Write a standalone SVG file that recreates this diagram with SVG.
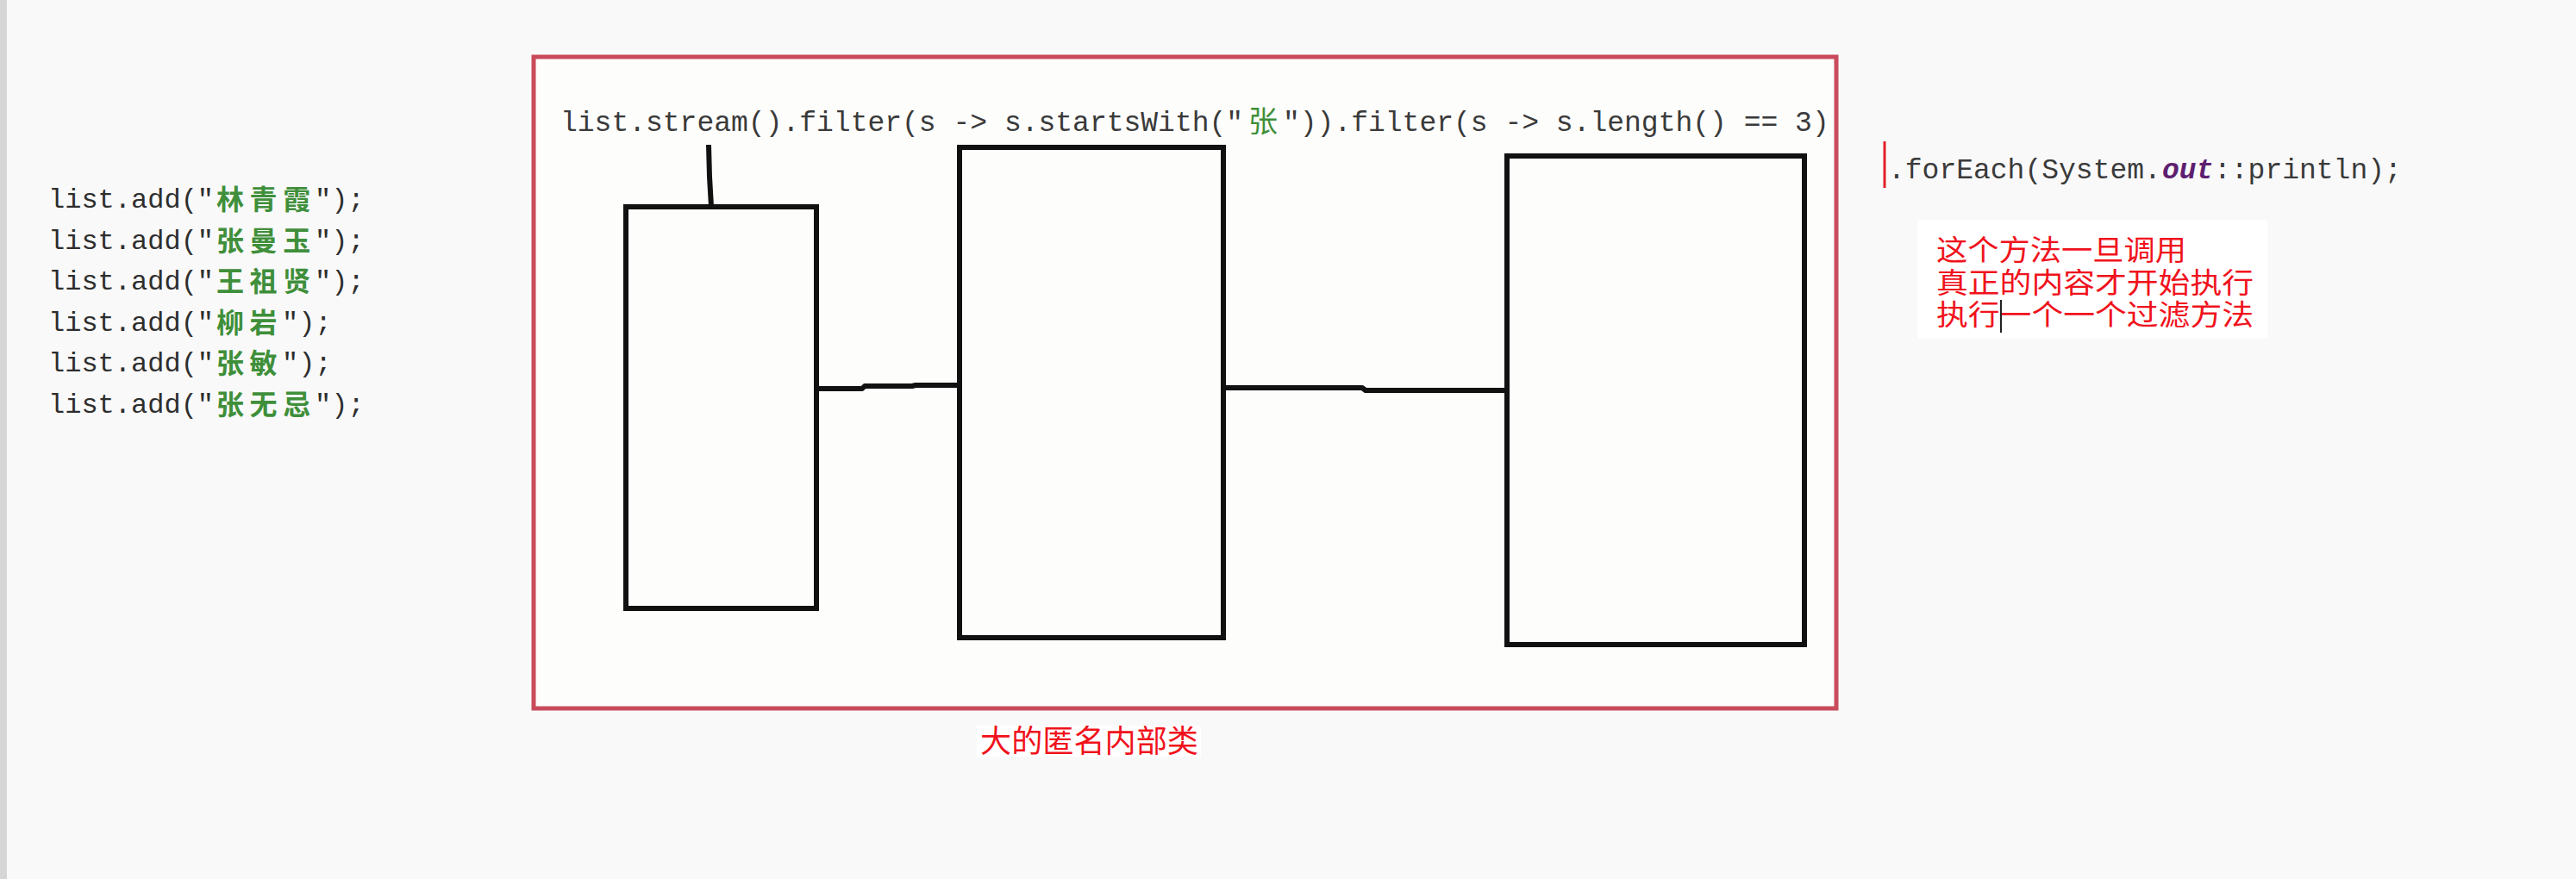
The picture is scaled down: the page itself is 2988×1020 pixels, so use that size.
<svg xmlns="http://www.w3.org/2000/svg" width="2988" height="1020" viewBox="0 0 2988 1020">
  <style>
    .code { font-family: "Liberation Mono", monospace; font-size: 32px; fill: #2e2e2e; }
    .code2 { font-family: "Liberation Mono", monospace; font-size: 33px; fill: #3a3a3a; }
    .cn { font-family: "Noto Sans CJK SC", sans-serif; font-size: 32px; font-weight: 700; fill: #3f8f3a; }
    .note { font-family: "Noto Sans CJK SC", sans-serif; fill: #f0121c; }
    .box { fill: none; stroke: #111; stroke-width: 6; }
    .conn { fill: none; stroke: #111; stroke-width: 6; stroke-linejoin: round; }
  </style>
  <rect x="0" y="0" width="2988" height="1020" fill="#f9f9f9"/>
  <rect x="0" y="0" width="8" height="1020" fill="#d6d6d6"/>

  <!-- left source code -->
  <g id="source-list">
    <g id="line1">
      <text class="code" x="56" y="241">list.add("</text>
      <text class="cn" x="251 289.6 328.2" y="243">林青霞</text>
      <text class="code" x="365" y="241">");</text>
    </g>
    <g id="line2">
      <text class="code" x="56" y="288.6">list.add("</text>
      <text class="cn" x="251 289.6 328.2" y="290.6">张曼玉</text>
      <text class="code" x="365" y="288.6">");</text>
    </g>
    <g id="line3">
      <text class="code" x="56" y="336.2">list.add("</text>
      <text class="cn" x="251 289.6 328.2" y="338.2">王祖贤</text>
      <text class="code" x="365" y="336.2">");</text>
    </g>
    <g id="line4">
      <text class="code" x="56" y="383.8">list.add("</text>
      <text class="cn" x="251 289.6" y="385.8">柳岩</text>
      <text class="code" x="327" y="383.8">");</text>
    </g>
    <g id="line5">
      <text class="code" x="56" y="431.4">list.add("</text>
      <text class="cn" x="251 289.6" y="433.4">张敏</text>
      <text class="code" x="327" y="431.4">");</text>
    </g>
    <g id="line6">
      <text class="code" x="56" y="479">list.add("</text>
      <text class="cn" x="251 289.6 328.2" y="481">张无忌</text>
      <text class="code" x="365" y="479">");</text>
    </g>
  </g>

  <!-- big anonymous inner class container -->
  <g id="container">
    <rect x="619" y="66" width="1511" height="756" fill="#fdfdfc" stroke="#c94b5b" stroke-width="5"/>
    <text class="code2" x="650" y="152">list.stream().filter(s -&gt; s.startsWith("</text>
    <text class="cn" x="1448" y="153" style="font-weight:400;font-size:34px">张</text>
    <text class="code2" x="1488" y="152">")).filter(s -&gt; s.length() == 3)</text>
  </g>

  <g id="stage1"><rect class="box" x="726" y="240" width="221" height="466"/></g>
  <g id="stage2"><rect class="box" x="1113" y="171" width="306" height="569"/></g>
  <g id="stage3"><rect class="box" x="1748" y="181" width="345" height="567"/></g>

  <g id="connectors">
    <path class="conn" d="M822,168 L823,205 L825,240"/>
    <path class="conn" d="M947,451 L1000,451 L1003,448 L1058,448 L1062,447 L1113,447"/>
    <path class="conn" d="M1419,450 L1580,450 L1584,453 L1748,453"/>
  </g>

  <!-- forEach terminal call -->
  <g id="foreach">
    <line x1="2186" y1="164" x2="2186" y2="218" stroke="#e0202a" stroke-width="3"/>
    <text class="code2" x="2190" y="207">.forEach(System.</text>
    <text class="code2" x="2508" y="207" style="fill:#5e1f70;font-style:italic;font-weight:bold">out</text>
    <text class="code2" x="2568" y="207">::println);</text>
  </g>

  <g id="note-foreach">
    <rect x="2224" y="255" width="406" height="138" fill="#ffffff"/>
    <text class="note" x="2246" y="302" font-size="33" textLength="290" lengthAdjust="spacingAndGlyphs">这个方法一旦调用</text>
    <text class="note" x="2246" y="340" font-size="33" textLength="368" lengthAdjust="spacingAndGlyphs">真正的内容才开始执行</text>
    <text class="note" x="2246" y="377" font-size="33" textLength="368" lengthAdjust="spacingAndGlyphs">执行一个一个过滤方法</text>
    <line x1="2321" y1="348" x2="2321" y2="386" stroke="#222" stroke-width="2"/>
  </g>

  <g id="label-container">
    <rect x="1133" y="842" width="260" height="36" fill="#ffffff"/>
    <text class="note" x="1137" y="873" font-size="36" textLength="253" lengthAdjust="spacingAndGlyphs">大的匿名内部类</text>
  </g>
</svg>
